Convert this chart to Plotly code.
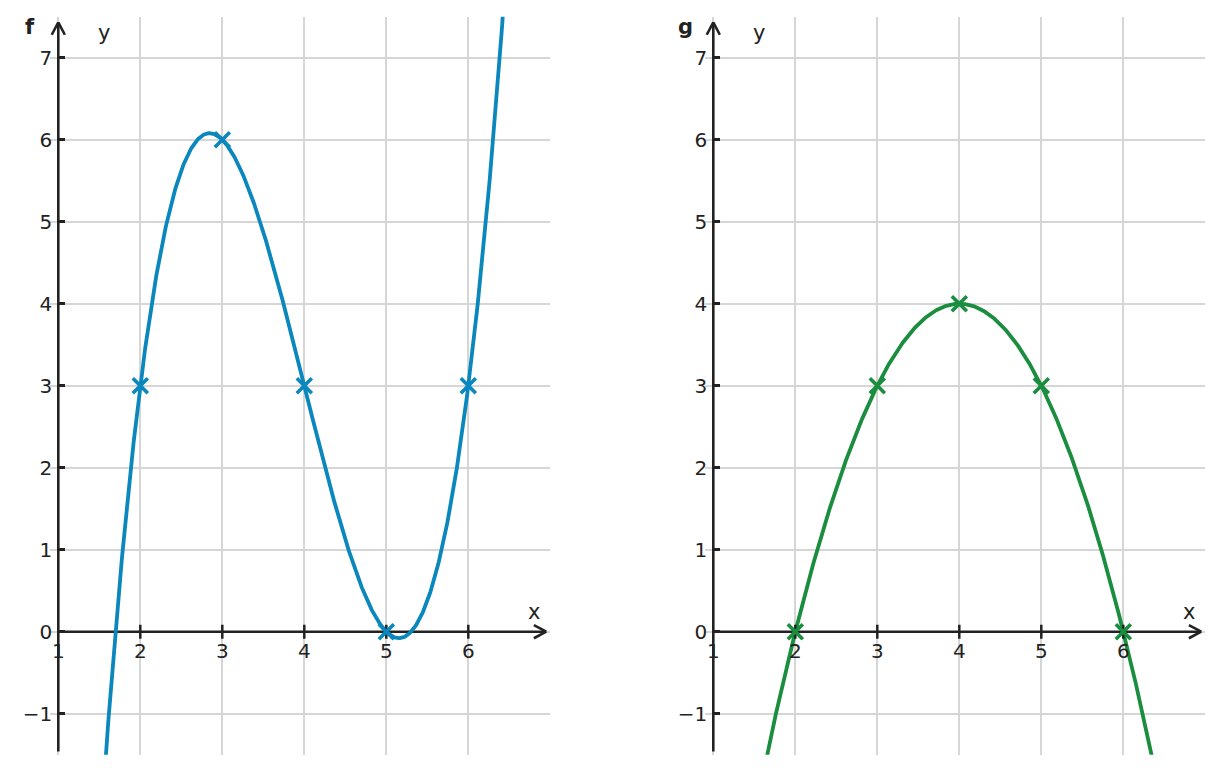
import numpy as np
import plotly.graph_objects as go

# ---- data ----
x_ticks = [1, 2, 3, 4, 5, 6]
y_ticks = [-1, 0, 1, 2, 3, 4, 5, 6, 7]
f_points_x = [2, 3, 4, 5, 6]
f_points_y = [3, 6, 3, 0, 3]
g_points_x = [2, 3, 4, 5, 6]
g_points_y = [0, 3, 4, 3, 0]
# polynomial coefficients (highest power first) of the plotted curves
f_coeffs = [1, -12, 44, -45]
g_coeffs = [-1, 8, -12]
panel_names = ["f", "g"]

# ---- style ----
X_RANGE = [0.9, 7.0]
Y_RANGE = [-1.5, 7.5]
X_AXIS_AT = 1
BLUE = "#0a87bd"
GREEN = "#1a8d3e"
AXIS = "#222222"
GRID = "#d6d6d6"
FONT = "DejaVu Sans"
W, H = 1223, 773
PX_PER_UNIT = 82.0

fig = go.Figure()

xs = np.linspace(X_AXIS_AT - 0.5, X_RANGE[1], 900)
series = [
    (f_coeffs, f_points_x, f_points_y, BLUE, "x", "y"),
    (g_coeffs, g_points_x, g_points_y, GREEN, "x2", "y2"),
]
for coeffs, px, py, col, xa, ya in series:
    fig.add_trace(go.Scatter(x=xs, y=np.polyval(coeffs, xs), mode="lines",
                             line=dict(color=col, width=3.8), xaxis=xa, yaxis=ya,
                             hoverinfo="skip", showlegend=False))

# tick marks crossing the x axis
for xa, ya in [("x", "y"), ("x2", "y2")]:
    fig.add_trace(go.Scatter(x=x_ticks[1:], y=[0] * (len(x_ticks) - 1), mode="markers",
                             marker=dict(symbol="line-ns", size=10,
                                         line=dict(color=AXIS, width=2.5)),
                             xaxis=xa, yaxis=ya, hoverinfo="skip", showlegend=False))

for coeffs, px, py, col, xa, ya in series:
    fig.add_trace(go.Scatter(x=px, y=py, mode="markers",
                             marker=dict(symbol="x-thin", size=15,
                                         line=dict(color=col, width=3.6)),
                             xaxis=xa, yaxis=ya, hoverinfo="skip", showlegend=False))

dom_y = [1 - 754.7 / H, 1 - 16.7 / H]
x_pos = 1 - 631.7 / H
axis_px = [58.3, 713.3]          # pixel column of the y axis in each panel

tickfont = dict(family=FONT, size=20, color=AXIS)
for i, apx in enumerate(axis_px):
    left = apx - (X_AXIS_AT - X_RANGE[0]) * PX_PER_UNIT
    right = apx + (X_RANGE[1] - X_AXIS_AT) * PX_PER_UNIT
    dom = [left / W, right / W]
    sfx = "" if i == 0 else str(i + 1)
    fig.layout["xaxis" + sfx] = dict(
        domain=dom, range=X_RANGE, anchor="free", position=x_pos,
        tickvals=x_ticks, ticks="", showline=False, zeroline=False,
        showgrid=True, gridcolor=GRID, gridwidth=1.6, automargin=False,
        tickfont=tickfont, ticklabelstandoff=5, fixedrange=True,
    )
    fig.layout["yaxis" + sfx] = dict(
        domain=dom_y, range=Y_RANGE, anchor="free", position=apx / W,
        tickvals=y_ticks, ticks="inside", ticklen=6, tickwidth=2.5, tickcolor=AXIS,
        showline=False, zeroline=False, showgrid=True, gridcolor=GRID, gridwidth=1.6,
        tickfont=tickfont, ticklabelstandoff=6, fixedrange=True, automargin=False,
    )
    xr, yr = "x" + sfx, "y" + sfx
    # axis lines with open chevron arrow heads
    x_tip, y_tip = 6.95, 7.43
    ah_len, ah_w = 0.15, 0.08
    line = dict(color=AXIS, width=2.6)
    x0a = X_AXIS_AT
    shapes = [
        (x0a, 0, x_tip, 0),
        (x_tip - ah_len, ah_w, x_tip, 0),
        (x_tip - ah_len, -ah_w, x_tip, 0),
        (x0a, -1.46, x0a, y_tip),
        (x0a - ah_w, y_tip - ah_len, x0a, y_tip),
        (x0a + ah_w, y_tip - ah_len, x0a, y_tip),
    ]
    for x0, y0, x1, y1 in shapes:
        fig.add_shape(type="line", x0=x0, y0=y0, x1=x1, y1=y1, xref=xr, yref=yr,
                      line=line, layer="between")
    fig.add_annotation(x=6.8, y=0.24, xref=xr, yref=yr, text="x", showarrow=False,
                       font=dict(family=FONT, size=21, color=AXIS))
    fig.add_annotation(x=1.56, y=7.3, xref=xr, yref=yr, text="y", showarrow=False,
                       font=dict(family=FONT, size=21, color=AXIS))
    # panel letter, placed in paper coordinates just left of the axis top
    fig.add_annotation(x=(apx - 28) / W, y=1 - 27 / H, xref="paper", yref="paper",
                       text="<b>%s</b>" % panel_names[i], showarrow=False,
                       xanchor="center", yanchor="middle",
                       font=dict(family=FONT, size=21, color=AXIS))

fig.update_layout(
    width=W, height=H, margin=dict(l=0, r=0, t=0, b=0),
    paper_bgcolor="white", plot_bgcolor="white", showlegend=False,
)

fig.write_html("out.html", config={"displayModeBar": False})
